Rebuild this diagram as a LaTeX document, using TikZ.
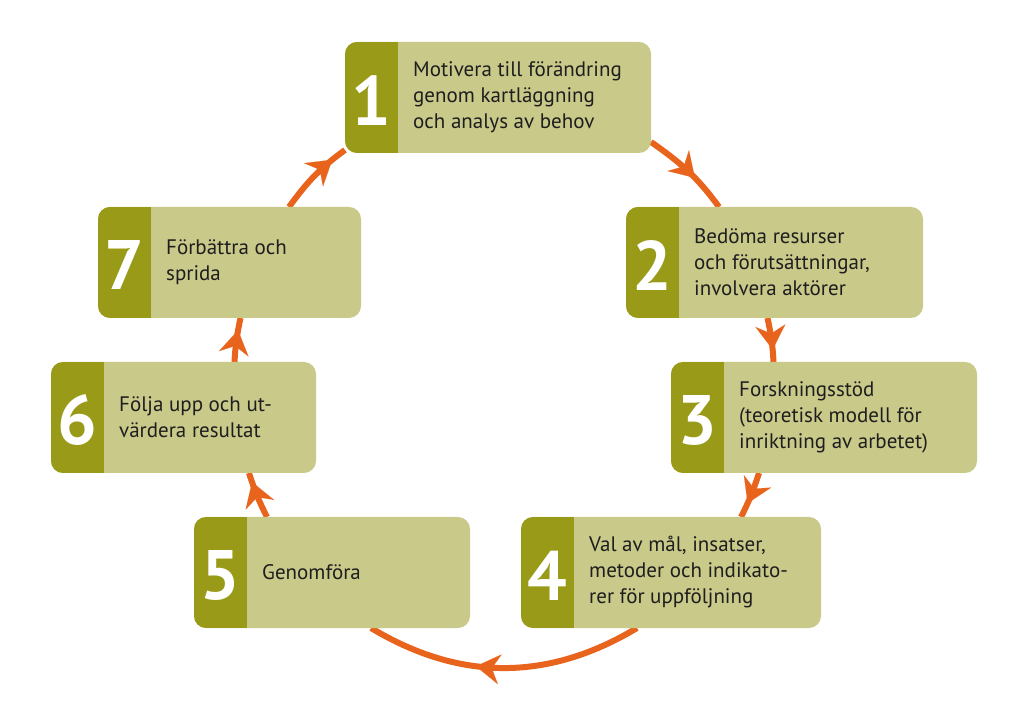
\documentclass[tikz,border=0pt]{standalone}
\usepackage{fontspec}
\setmainfont{PT Sans}
\usetikzlibrary{arrows.meta,decorations.markings,calc}
\definecolor{oliveD}{RGB}{153,155,24}
\definecolor{oliveL}{RGB}{201,201,138}
\definecolor{flowC}{RGB}{232,100,28}
\definecolor{txtC}{RGB}{30,30,30}
\pgfdeclarelayer{bg}
\pgfsetlayers{bg,main}
\tikzset{
 box/.style={fill=oliveL, rounded corners=12pt, inner sep=0pt, outer sep=0pt, anchor=north west},
 band/.style={fill=oliveD},
 num/.style={text=white, font=\fontsize{70}{70}\selectfont\bfseries, inner sep=0pt},
 lab/.style={text=txtC, font=\fontsize{21}{26}\selectfont, align=left, anchor=west, inner sep=0pt},
 flow/.style={draw=flowC, line width=6pt, postaction={decorate},
   decoration={markings, mark=at position #1 with {\arrow[flowC]{Stealth[length=24pt,width=30pt,inset=8pt,line width=0.1pt]}}}}
}
\newcommand\cyclebox[7]{%
 \node[box, minimum width=#4, minimum height=#5] (#1) at (#2,#3) {};
 \begin{scope}
 \clip[rounded corners=12pt] (#1.north west) rectangle (#1.south east);
 \fill[band] (#1.north west) rectangle ([xshift=53pt]#1.south west);
 \end{scope}
 \node[num] (#1n) at ([xshift=26.5pt,yshift=-3pt]#1.west) {#6};
 \node[lab] (#1t) at ([xshift=68pt]#1.west) {#7};
}
\begin{document}
\begin{tikzpicture}[x=1pt,y=1pt]
\useasboundingbox (0,0) rectangle (1024,725);
\cyclebox{b1}{345}{683}{306}{111}{1}{Motivera till förändring\\genom kartläggning\\och analys av behov}
\cyclebox{b2}{626}{518}{297}{111}{2}{Bedöma resurser\\och förutsättningar,\\involvera aktörer}
\cyclebox{b3}{671}{363}{306}{111}{3}{Forskningsstöd\\(teoretisk modell för\\inriktning av arbetet)}
\cyclebox{b4}{521}{208}{300}{111}{4}{Val av mål, insatser,\\metoder och indikato-\\rer för uppföljning}
\cyclebox{b5}{194}{208}{276}{111}{5}{Genomföra}
\cyclebox{b6}{51}{363}{265}{111}{6}{Följa upp och ut-\\värdera resultat}
\cyclebox{b7}{98}{518}{263}{111}{7}{Förbättra och\\sprida}
\begin{pgfonlayer}{bg}
\draw[flow=0.6] ([yshift=11pt]b1.south east) to[out=-35,in=126] ([xshift=93pt]b2.north west);
\draw[flow=0.72] ([xshift=141.5pt]b2.south west) to[out=-78,in=93] ([xshift=102.5pt]b3.north west);
\draw[flow=0.68] ([xshift=88pt]b3.south west) to[out=-108,in=63] ([xshift=220pt]b4.north west);
\draw[flow=0.6] ([xshift=116pt]b4.south west) to[out=-149,in=-31] ([xshift=177pt]b5.south west);
\draw[flow=0.8] ([xshift=73pt]b5.north west) to[out=117,in=-72] ([xshift=198pt]b6.south west);
\draw[flow=0.72] ([xshift=183.5pt]b6.north west) to[out=87,in=-102] ([xshift=142.5pt]b7.south west);
\draw[flow=0.8] ([xshift=191pt]b7.north west) to[out=54,in=-144] ([yshift=3pt]b1.south west);
\end{pgfonlayer}
\end{tikzpicture}
\end{document}
